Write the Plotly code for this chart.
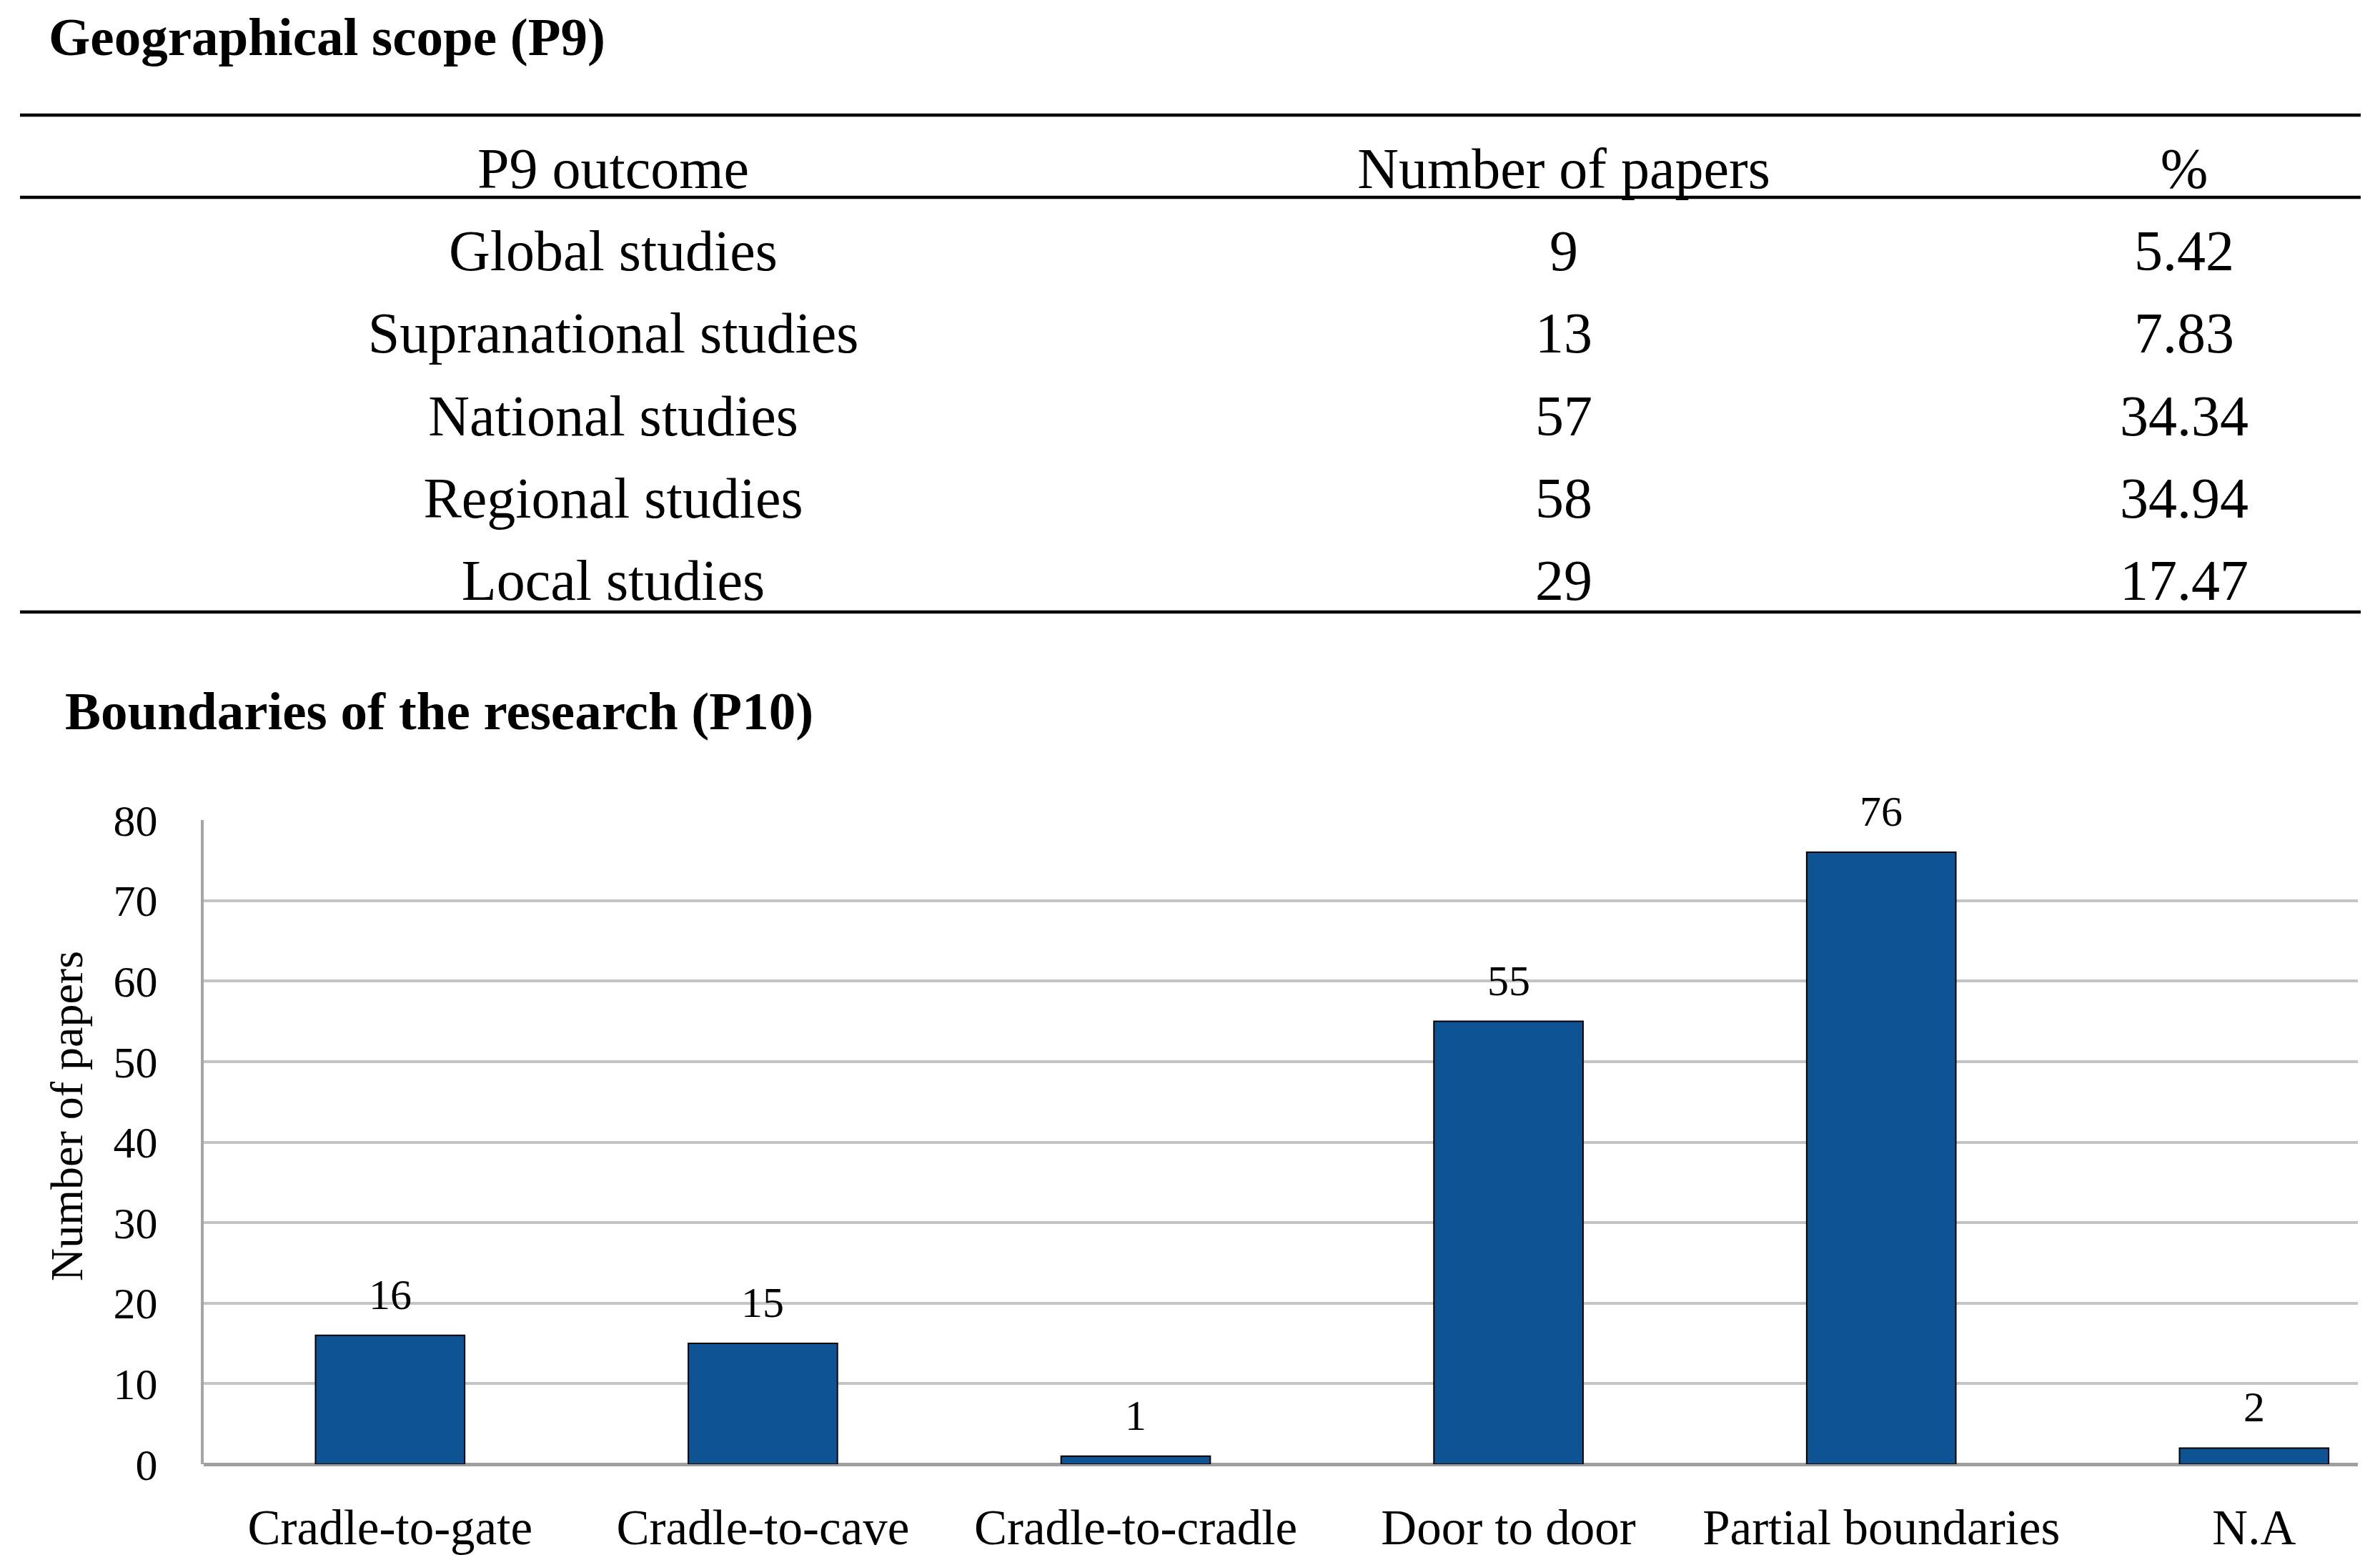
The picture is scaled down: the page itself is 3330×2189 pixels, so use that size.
import plotly.graph_objects as go

# ---------------- data ----------------
table_title = "Geographical scope (P9)"
table_headers = ["P9 outcome", "Number of papers", "%"]
outcomes = ["Global studies", "Supranational studies", "National studies",
            "Regional studies", "Local studies"]
outcome_counts = [9, 13, 57, 58, 29]
outcome_pcts = [5.42, 7.83, 34.34, 34.94, 17.47]

chart_title = "Boundaries of the research (P10)"
boundaries = ["Cradle-to-gate", "Cradle-to-cave", "Cradle-to-cradle",
              "Door to door", "Partial boundaries", "N.A"]
boundary_counts = [16, 15, 1, 55, 76, 2]
y_ticks = [0, 10, 20, 30, 40, 50, 60, 70, 80]
y_title = "Number of papers"

# ---------------- layout constants ----------------
W, H = 3330, 2189
OFF = 8  # default page body margin
FONT = "Liberation Serif"
BAR_COLOR = "#0E5394"


def px_x(p):
    return (p - OFF) / W


def px_y(p):
    return 1 - (p - OFF) / H


# table geometry (pixels)
COL_X = [858, 2188, 3056]
ROW_TOP_CENTER = 243
ROW_STEP = 115.2
n_rows = len(outcomes) + 1
tab_top = ROW_TOP_CENTER - ROW_STEP / 2
tab_bot = ROW_TOP_CENTER + ROW_STEP * (n_rows - 1) + ROW_STEP / 2

# chart geometry (pixels)
AX_LEFT, AX_RIGHT = 285, 3299
CAT_STEP = 521.6
x_hi = (AX_RIGHT - AX_LEFT) / CAT_STEP - 0.5

fig = go.Figure()

# ---------------- bar chart ----------------
fig.add_trace(go.Bar(
    x=boundaries, y=boundary_counts,
    marker=dict(color=BAR_COLOR, line=dict(color="#000000", width=2)),
    width=0.40, xaxis="x", yaxis="y", showlegend=False, hoverinfo="x+y",
))

for cat, val in zip(boundaries, boundary_counts):
    fig.add_annotation(x=cat, y=val, xref="x", yref="y", text=str(val),
                       showarrow=False, yanchor="middle", yshift=57,
                       font=dict(family=FONT, size=60, color="#000000"))

# ---------------- table (text on hidden axes) ----------------
row_labels = [table_headers[0]] + outcomes
col_texts = [
    [table_headers[0]] + outcomes,
    [table_headers[1]] + [str(v) for v in outcome_counts],
    [table_headers[2]] + [f"{v:.2f}" for v in outcome_pcts],
]
col_x_data = [c - OFF for c in COL_X]
for cx, texts in zip(col_x_data, col_texts):
    fig.add_trace(go.Scatter(
        x=[cx] * len(texts), y=row_labels, text=texts, mode="text",
        textposition="middle center",
        textfont=dict(family=FONT, size=80, color="#000000"),
        xaxis="x2", yaxis="y2", showlegend=False, hoverinfo="skip",
    ))

# table rules
for ypx in [161, 276, 856]:
    fig.add_shape(type="line", xref="paper", yref="paper",
                  x0=px_x(28), x1=px_x(3303), y0=px_y(ypx), y1=px_y(ypx),
                  line=dict(color="#000000", width=4.5))

# titles
fig.add_annotation(x=px_x(66), y=px_y(52), xref="paper", yref="paper",
                   text=f"<b>{table_title}</b>", showarrow=False,
                   xanchor="left", yanchor="middle",
                   font=dict(family=FONT, size=75, color="#000000"))
fig.add_annotation(x=px_x(89), y=px_y(994), xref="paper", yref="paper",
                   text=f"<b>{chart_title}</b>", showarrow=False,
                   xanchor="left", yanchor="middle",
                   font=dict(family=FONT, size=75, color="#000000"))

# y-axis title
fig.add_annotation(x=px_x(93), y=px_y(1561), xref="paper", yref="paper",
                   text=y_title, showarrow=False, textangle=-90,
                   xanchor="center", yanchor="middle",
                   font=dict(family=FONT, size=64, color="#000000"))

fig.update_layout(
    width=W, height=H,
    margin=dict(l=0, r=0, t=0, b=0, autoexpand=False),
    paper_bgcolor="white", plot_bgcolor="white",
    font=dict(family=FONT, color="#000000"),
    xaxis=dict(
        domain=[px_x(AX_LEFT), px_x(AX_RIGHT)],
        range=[-0.5, x_hi],
        showline=False, showgrid=False, zeroline=False, automargin=False,
        ticks="", tickfont=dict(family=FONT, size=69, color="#000000"),
        ticklabelstandoff=42, fixedrange=True,
    ),
    yaxis=dict(
        domain=[px_y(2048), px_y(1147)],
        range=[0, 80], tickvals=y_ticks, automargin=False,
        showline=True, linecolor="#A6A6A6", linewidth=4,
        showgrid=True, gridcolor="#C4C4C4", gridwidth=3.5,
        zeroline=True, zerolinecolor="#A0A0A0", zerolinewidth=5,
        ticks="", tickfont=dict(family=FONT, size=62, color="#000000"),
        ticklabelstandoff=48,
        fixedrange=True,
    ),
    xaxis2=dict(domain=[0, 1], range=[0, W], visible=False, fixedrange=True,
                automargin=False),
    yaxis2=dict(domain=[px_y(tab_bot), px_y(tab_top)],
                type="category", categoryarray=row_labels, automargin=False,
                range=[n_rows - 0.5, -0.5], visible=False, fixedrange=True),
)

fig.write_html("out.html")
